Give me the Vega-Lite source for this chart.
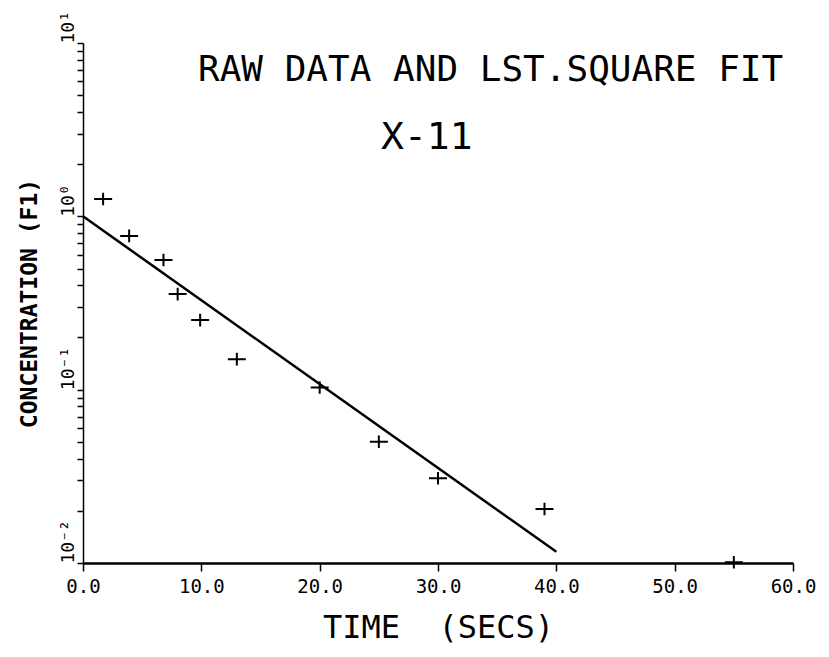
{
  "$schema": "https://vega.github.io/schema/vega-lite/v6.json",
  "width": 710,
  "height": 520,
  "autosize": "none",
  "padding": {"left": 83, "top": 43, "right": 36, "bottom": 94},
  "background": "white",
  "config": {"view": {"stroke": null}, "font": "DejaVu Sans Mono"},
  "title": {
    "text": "RAW DATA AND LST.SQUARE FIT",
    "subtitle": "\u200b\u00a0\u00a0\u00a0\u00a0\u00a0\u00a0\u00a0\u00a0X-11",
    "anchor": "start",
    "frame": "group",
    "orient": "top",
    "dx": 115,
    "offset": -148,
    "font": "DejaVu Sans Mono",
    "fontSize": 36,
    "fontWeight": "normal",
    "color": "black",
    "subtitleFont": "DejaVu Sans Mono",
    "subtitleFontSize": 38,
    "subtitleColor": "black",
    "subtitlePadding": 30
  },
  "datasets": {
    "raw": [
      {"t": 1.7, "c": 1.26},
      {"t": 3.9, "c": 0.771},
      {"t": 6.8, "c": 0.56},
      {"t": 8.0, "c": 0.356},
      {"t": 9.9, "c": 0.252},
      {"t": 13.0, "c": 0.15},
      {"t": 20.0, "c": 0.103},
      {"t": 25.0, "c": 0.0501},
      {"t": 30.0, "c": 0.0308},
      {"t": 39.0, "c": 0.0205},
      {"t": 55.0, "c": 0.0101}
    ],
    "fit": [
      {"t": 0, "c": 1.0},
      {"t": 40, "c": 0.0116}
    ]
  },
  "encoding": {
    "x": {
      "field": "t",
      "type": "quantitative",
      "scale": {"domain": [0, 60], "nice": false, "zero": false},
      "axis": {
        "values": [0, 10, 20, 30, 40, 50, 60],
        "format": ".1f",
        "labelFlush": false,
        "labelFontSize": 19,
        "labelColor": "black",
        "labelPadding": 6,
        "tickSize": 8,
        "tickWidth": 1.5,
        "tickColor": "black",
        "domainColor": "black",
        "domainWidth": 2.5,
        "grid": false,
        "title": "TIME\u00a0 (SECS)",
        "titleFontSize": 32,
        "titleFontWeight": "normal",
        "titleColor": "black",
        "titlePadding": 16
      }
    },
    "y": {
      "field": "c",
      "type": "quantitative",
      "scale": {"type": "log", "domain": [0.01, 10], "nice": false},
      "axis": {
        "values": [0.01, 0.02, 0.03, 0.04, 0.05, 0.06, 0.07, 0.08, 0.09, 0.1, 0.2, 0.3, 0.4, 0.5, 0.6, 0.7, 0.8, 0.9, 1, 2, 3, 4, 5, 6, 7, 8, 9, 10],
        "labelExpr": "datum.value == 10 ? '10¹' : (datum.value == 1 ? '10⁰' : (datum.value == 0.1 ? '10⁻¹' : (datum.value == 0.01 ? '10⁻²' : '')))",
        "labelOverlap": false,
        "labelFlush": false,
        "labelAngle": 270,
        "labelAlign": "left",
        "labelBaseline": "bottom",
        "labelFontSize": 18,
        "labelColor": "black",
        "labelPadding": 0,
        "ticks": true,
        "tickSize": 6,
        "tickWidth": 1.5,
        "tickColor": "black",
        "tickOpacity": 1,
        "domainColor": "black",
        "domainWidth": 1.5,
        "grid": false,
        "title": "CONCENTRATION (F1)",
        "titleFontSize": 23,
        "titleFontWeight": "bold",
        "titleColor": "black",
        "titlePadding": 18
      }
    }
  },
  "layer": [
    {
      "data": {"name": "fit"},
      "mark": {"type": "line", "color": "black", "strokeWidth": 2.5, "clip": false}
    },
    {
      "data": {"name": "raw"},
      "mark": {"type": "point", "shape": "M-1,0L1,0M0,-0.7L0,0.7", "size": 324, "filled": false, "stroke": "black", "strokeWidth": 2, "opacity": 1, "clip": false}
    }
  ]
}
